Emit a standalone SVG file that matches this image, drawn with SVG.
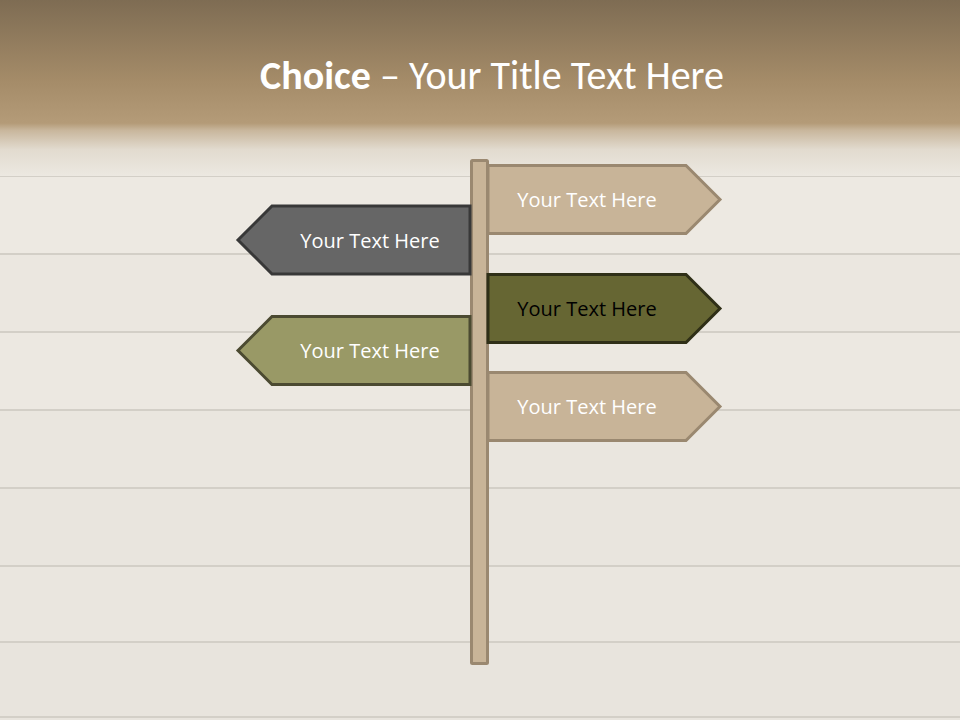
<svg xmlns="http://www.w3.org/2000/svg" width="960" height="720" viewBox="0 0 960 720">
<defs>
<linearGradient id="hdr" x1="0" y1="0" x2="0" y2="1">
<stop offset="0" stop-color="#7e6c53"/>
<stop offset="0.45" stop-color="#a48b68"/>
<stop offset="0.7" stop-color="#b49b78"/>
<stop offset="0.74" stop-color="#c8b69c"/>
<stop offset="0.85" stop-color="#e2dbcf"/>
<stop offset="1" stop-color="#ece8e1"/>
</linearGradient>
<style>
.seam{stroke:#d3cfc7;stroke-width:2}
.txt{font-family:"Open Sans","Liberation Sans",sans-serif;font-size:20px;fill:#ffffff;text-anchor:middle;dominant-baseline:central}
.tan{fill:#c8b498;stroke:#9a8870;stroke-width:3;stroke-linejoin:miter}
.gray{fill:#666666;stroke:#383838;stroke-width:3}
.olive{fill:#666633;stroke:#2f2f17;stroke-width:3}
.green{fill:#999966;stroke:#4b4a31;stroke-width:3}
</style>
</defs>
<rect x="0" y="0" width="960" height="720" fill="#ece8e1"/>
<g id="planks">
<rect x="0" y="176" width="960" height="78" fill="#ede9e2"/>
<rect x="0" y="254" width="960" height="78" fill="#ebe7e0"/>
<rect x="0" y="332" width="960" height="78" fill="#ece8e1"/>
<rect x="0" y="410" width="960" height="78" fill="#eae6df"/>
<rect x="0" y="488" width="960" height="78" fill="#e9e5de"/>
<rect x="0" y="566" width="960" height="76" fill="#eae6df"/>
<rect x="0" y="642" width="960" height="78" fill="#e8e4dd"/>
<line x1="0" y1="176" x2="960" y2="176" class="seam"/>
<line x1="0" y1="254" x2="960" y2="254" class="seam"/>
<line x1="0" y1="332" x2="960" y2="332" class="seam"/>
<line x1="0" y1="410" x2="960" y2="410" class="seam"/>
<line x1="0" y1="488" x2="960" y2="488" class="seam"/>
<line x1="0" y1="566" x2="960" y2="566" class="seam"/>
<line x1="0" y1="642" x2="960" y2="642" class="seam"/>
<line x1="0" y1="717" x2="960" y2="717" class="seam"/>
</g>
<rect x="0" y="0" width="960" height="176" fill="url(#hdr)"/>
<g id="title">
<text x="492" y="75" font-family="Calibri,Carlito,'Open Sans',sans-serif" font-size="40" fill="#ffffff" text-anchor="middle" dominant-baseline="central"><tspan font-weight="bold">Choice</tspan> – Your Title Text Here</text>
</g>
<g id="connectors"></g>
<g id="post">
<rect x="471.5" y="160.5" width="16" height="503" rx="1" fill="#c8b498" stroke="#9a8870" stroke-width="3"/>
</g>
<g id="sign1">
<polygon points="488,165.5 686,165.5 720,199.5 686,233.5 488,233.5" class="tan"/>
<text x="587" y="199.5" class="txt">Your Text Here</text>
</g>
<g id="sign2">
<polygon points="470,206 272,206 238,240 272,274 470,274" class="gray"/>
<text x="370" y="240" class="txt">Your Text Here</text>
</g>
<g id="sign3">
<polygon points="488,274.5 686,274.5 720,308.5 686,342.5 488,342.5" class="olive"/>
<text x="587" y="308.5" class="txt" style="fill:#000000">Your Text Here</text>
</g>
<g id="sign4">
<polygon points="470,316.5 272,316.5 238,350.5 272,384.5 470,384.5" class="green"/>
<text x="370" y="350.5" class="txt">Your Text Here</text>
</g>
<g id="sign5">
<polygon points="488,372.5 686,372.5 720,406.5 686,440.5 488,440.5" class="tan"/>
<text x="587" y="406.5" class="txt">Your Text Here</text>
</g>
</svg>
